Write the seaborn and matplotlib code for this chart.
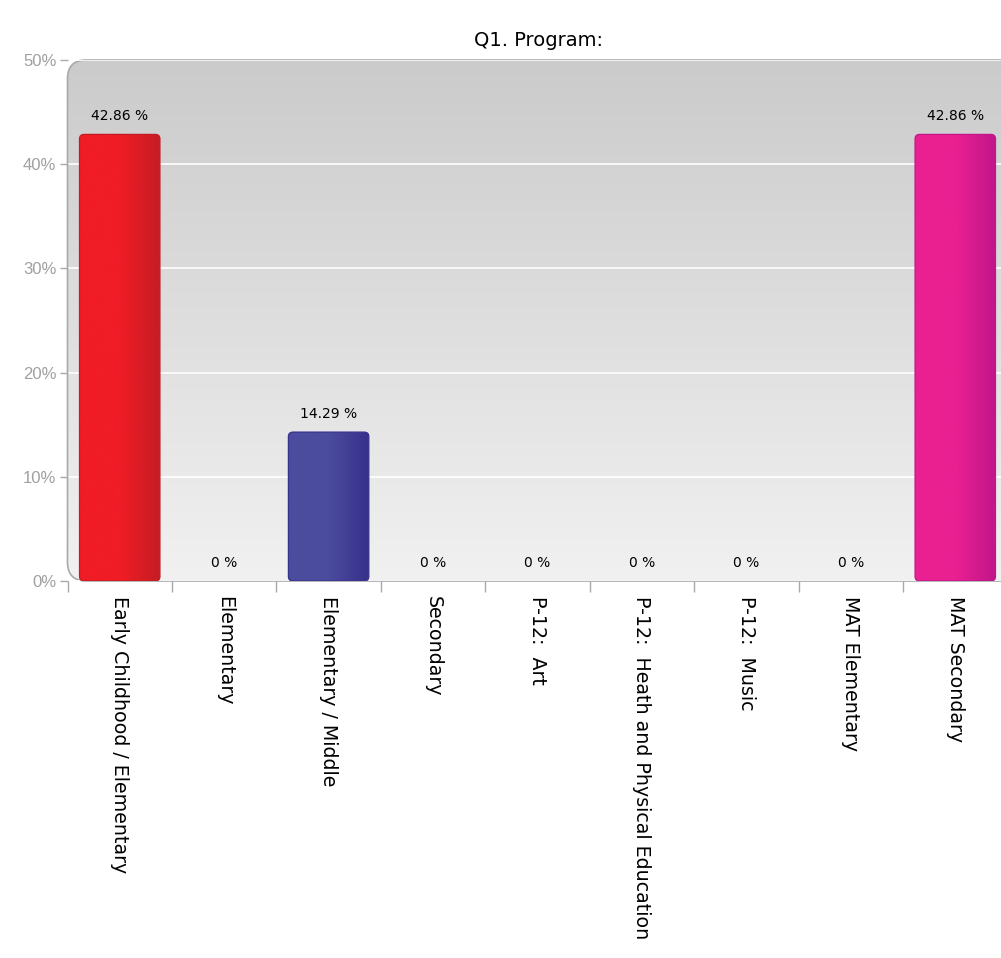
import numpy as np
import pandas as pd
import matplotlib
matplotlib.use("Agg")
import matplotlib.pyplot as plt
import seaborn as sns
from matplotlib.patches import FancyBboxPatch
from matplotlib.colors import LinearSegmentedColormap

programs = ["Early Childhood / Elementary", "Elementary", "Elementary / Middle",
            "Secondary", "P-12:  Art", "P-12:  Heath and Physical Education",
            "P-12:  Music", "MAT Elementary", "MAT Secondary"]
percent = [42.86, 0, 14.29, 0, 0, 0, 0, 0, 42.86]
labels = ["42.86 %", "0 %", "14.29 %", "0 %", "0 %", "0 %", "0 %", "0 %", "42.86 %"]
light = ["#f01c26", "#cccccc", "#4c4c9e", "#cccccc", "#cccccc", "#cccccc", "#cccccc", "#cccccc", "#ea2091"]
dark = ["#c41c24", "#cccccc", "#37308c", "#cccccc", "#cccccc", "#cccccc", "#cccccc", "#cccccc", "#c0168a"]

sns.set_style("white")
plt.rcParams["font.family"] = ["DejaVu Sans"]
plt.rcParams["text.color"] = "black"

fig = plt.figure(figsize=(10.01, 9.58), dpi=100)
pos = [67.5 / 1001, 1 - 581 / 958, 940 / 1001, 521 / 958]

# background panel with vertical gradient and rounded corners
bg = fig.add_axes(pos, zorder=0)
bg.set_axis_off()
grad = np.linspace(0, 1, 256).reshape(-1, 1)
bg_cmap = LinearSegmentedColormap.from_list("bg", ["#f1f1f1", "#cbcbcb"])
im = bg.imshow(grad, cmap=bg_cmap, aspect="auto", origin="lower",
               extent=[0, 1, 0, 1], transform=bg.transAxes)
frame = FancyBboxPatch((0, 0), 1.05, 1, boxstyle="round,pad=0,rounding_size=0.02",
                       mutation_aspect=1.8, transform=bg.transAxes,
                       facecolor="none", edgecolor="#a9a9a9", lw=1.2, clip_on=False)
bg.add_patch(frame)
im.set_clip_path(frame)

ax = fig.add_axes(pos, zorder=1)
ax.set_facecolor("none")

df = pd.DataFrame({"program": programs, "percent": percent})
sns.barplot(data=df, x="program", y="percent", hue="program", palette=light,
            legend=False, width=0.77, ax=ax, saturation=1)

# rounded bars with a horizontal gradient
for i, bar in enumerate(list(ax.patches)):
    h = bar.get_height()
    x0 = bar.get_x()
    w = bar.get_width()
    bar.set_facecolor("none")
    bar.set_edgecolor("none")
    if h <= 0:
        continue
    rb = FancyBboxPatch((x0, 0), w, h, boxstyle="round,pad=0,rounding_size=0.045",
                        mutation_aspect=9.5, facecolor="none", edgecolor=dark[i],
                        lw=0.9, zorder=3)
    ax.add_patch(rb)
    cm = LinearSegmentedColormap.from_list("b%d" % i, [light[i], light[i], dark[i]])
    g = np.linspace(0, 1, 128).reshape(1, -1)
    bi = ax.imshow(g, cmap=cm, aspect="auto", extent=[x0, x0 + w, 0, h], zorder=2)
    bi.set_clip_path(rb)

for i, (v, t) in enumerate(zip(percent, labels)):
    ax.annotate(t, (i, v), xytext=(0, 8), textcoords="offset points",
                ha="center", va="bottom", fontsize=10, color="black")

ax.set_xlim(-0.5, 8.5)
ax.set_ylim(0, 50)
ax.set_yticks([0, 10, 20, 30, 40, 50])
ax.set_yticklabels(["0%", "10%", "20%", "30%", "40%", "50%"])
ax.grid(axis="y", color="white", lw=1.2)
ax.set_axisbelow(True)
for s in ax.spines.values():
    s.set_visible(False)

ax.set_xticks(range(len(programs)))
ax.set_xticklabels(programs, rotation=270, va="top", ha="center", fontsize=13.7, color="black")
ax.set_xticks(np.arange(-0.5, 8, 1), minor=True)
ax.tick_params(axis="x", which="major", length=0, pad=11)
ax.tick_params(axis="x", which="minor", length=8, color="#a9a9a9", width=1, bottom=True)
ax.tick_params(axis="y", length=6, color="#a9a9a9", width=1, left=True, pad=2,
               labelcolor="#a0a0a0", labelsize=12)
for t in ax.get_yticklabels():
    t.set_family("Liberation Sans")
ax.set_xlabel("")
ax.set_ylabel("")

fig.text(538 / 1001, 1 - 40 / 958, "Q1. Program:", ha="center", va="center",
         fontsize=14, color="black")

fig.savefig("out.png", dpi=100)
